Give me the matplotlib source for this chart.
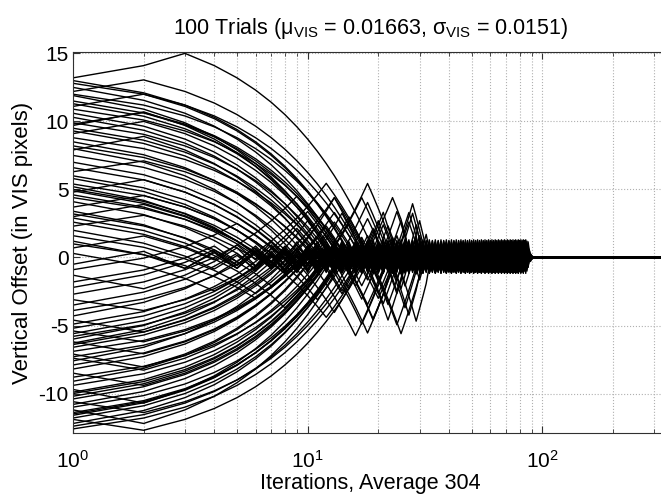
import numpy as np
import matplotlib
matplotlib.use('Agg')
from matplotlib import pyplot as plt
from matplotlib.ticker import LogLocator, LogFormatterMathtext, FixedLocator

# starting vertical offsets of the 100 trials
start_offsets = [13.2, 12.8, 12.5, 12.2, 11.9, 11.5, 11.3, 11.1, 10.9, 10.6,
                 9.9, 9.7, 9.5, 9.3, 9.1, 8.8, 8.5, 8.2, 7.9, 7.5,
                 7.0, 6.6, 6.3, 5.8, 5.4, 5.2, 5.0, 4.8, 4.6, 4.4,
                 4.1, 3.7, 3.4, 3.2, 2.9, 2.6, 2.3, 2.0, 1.6, 1.2,
                 0.7, 0.3, 13.0, 12.0, 10.3, 9.8, 8.0, 6.0, 4.9, 3.0,
                 1.0, -0.5, -0.9, -1.3, -1.8, -2.2, -2.7, -3.1, -3.5, -3.9,
                 -4.3, -4.6, -4.9, -5.2, -5.4, -5.6, -5.8, -6.0, -6.2, -6.4,
                 -6.6, -6.9, -7.1, -7.3, -7.6, -7.9, -8.2, -8.5, -8.8, -9.1,
                 -9.4, -9.7, -10.0, -10.2, -10.4, -10.6, -10.8, -11.0, -11.2, -11.4,
                 -11.6, -11.8, -11.9, -12.2, -12.4, -6.3, -7.4, -9.9, -11.5, -12.6]
# coarse step per iteration (VIS pixels), cycled over the trials
step_cycle = [0.9, 0.8, 0.95, 0.85, 1.0, 0.88, 0.92]
# step while oscillating round zero (10-90 iterations), cycled over the trials
band_step_cycle = [1.1, 1.25, 1.0, 1.3, 1.15]
# trials whose first moves go the wrong way, and how many such moves
reversed_trials = [0, 92, 3, 7, 11, 14, 18, 22, 27, 31, 36, 40, 45,
                   49, 53, 57, 61, 64, 68, 72, 77, 81, 85, 88, 96]
reversed_moves = [2, 1, 1, 1, 1, 1, 1, 1, 1, 1, 1, 1, 1,
                  1, 1, 1, 1, 1, 1, 1, 1, 1, 1, 1, 1]
# trials that overshoot zero during the coarse phase (big zigzags at 10-30 iterations)
lagged_trials = [2, 5, 9, 13, 16, 20, 24, 26, 29, 33, 35, 38, 41, 44, 47,
                 50, 52, 56, 59, 62, 66, 70, 74, 79, 83, 87, 90, 95, 97]
lag_lengths = [4, 3, 5, 2, 6, 4, 3, 1, 5, 2, 4, 3, 2, 5, 1,
               3, 2, 4, 6, 3, 5, 2, 4, 3, 5, 1, 4, 2, 3]
lag_until_cycle = [22, 26, 30, 33]
# iteration where the fine search starts, cycled over the trials
fine_start_cycle = [88, 86, 84, 80, 87, 78]
fine_step = 0.03
max_iter = 345

plt.rcParams['font.family'] = ['Liberation Sans', 'DejaVu Sans']
plt.rcParams['mathtext.fontset'] = 'custom'
plt.rcParams['mathtext.rm'] = 'Liberation Sans'
plt.rcParams['mathtext.it'] = 'Liberation Sans:italic'
plt.rcParams['mathtext.default'] = 'regular'
plt.rcParams['axes.unicode_minus'] = False

fig = plt.figure(figsize=(6.61, 4.96), dpi=100)
ax = fig.add_axes([73 / 661, 1 - 433 / 496, 1 - 73 / 661 + 0.01, (433 - 52) / 496])

for i, y0 in enumerate(start_offsets):
    step = step_cycle[i % len(step_cycle)]
    band_step = band_step_cycle[i % len(band_step_cycle)]
    wrong = reversed_moves[reversed_trials.index(i)] if i in reversed_trials else 0
    lag = lag_lengths[lagged_trials.index(i)] if i in lagged_trials else 0
    lag_until = lag_until_cycle[i % len(lag_until_cycle)]
    fine_start = fine_start_cycle[i % len(fine_start_cycle)]
    ys = [y0]
    s = step
    crossed = False
    for n in range(2, max_iter + 1):
        cur = ys[-1]
        if n - 1 <= wrong:
            d = np.sign(cur)
        elif lag and n < lag_until:
            d = -np.sign(ys[max(0, len(ys) - 1 - lag)])
        else:
            d = -np.sign(cur)
        if n >= fine_start:
            s = max(s / 2, fine_step)
        elif crossed and (not lag or n >= lag_until):
            s = band_step
        nxt = cur + d * s
        if np.sign(nxt) != np.sign(cur):
            crossed = True
        ys.append(nxt)
    ax.plot(np.arange(1, max_iter + 1), ys, color='black', lw=1.0)

ax.set_xscale('log')
ax.set_xlim(1, 342)
ax.set_ylim(-12.9, 15.1)
ax.xaxis.set_major_locator(LogLocator(base=10))
ax.xaxis.set_minor_locator(LogLocator(base=10, subs=np.arange(2, 10)))
ax.xaxis.set_major_formatter(LogFormatterMathtext())
ax.yaxis.set_major_locator(FixedLocator([-10, -5, 0, 5, 10, 15]))

ax.grid(True, which='major', axis='both', ls=':', color='#b0b0b0', lw=0.8)
ax.grid(True, which='minor', axis='x', ls=':', color='#b0b0b0', lw=0.8)
ax.tick_params(which='both', direction='in', top=True, right=False, colors='#303030',
               labelcolor='black', labelsize=15)
ax.tick_params(which='major', length=5)
ax.tick_params(which='minor', length=3)
ax.tick_params(axis='x', pad=12)
ax.tick_params(axis='y', pad=3)
for side in ['left', 'bottom', 'top']:
    ax.spines[side].set_color('#303030')
ax.spines['right'].set_visible(False)

ax.set_xlabel('Iterations, Average 304', fontsize=15.5, labelpad=1)
ax.set_ylabel('Vertical Offset (in VIS pixels)', fontsize=16, labelpad=4)
ax.set_title(r'100 Trials ($\mu_{VIS}$ = 0.01663, $\sigma_{VIS}$ = 0.0151)', fontsize=15.5, pad=13)

fig.savefig('out.png', dpi=100)
